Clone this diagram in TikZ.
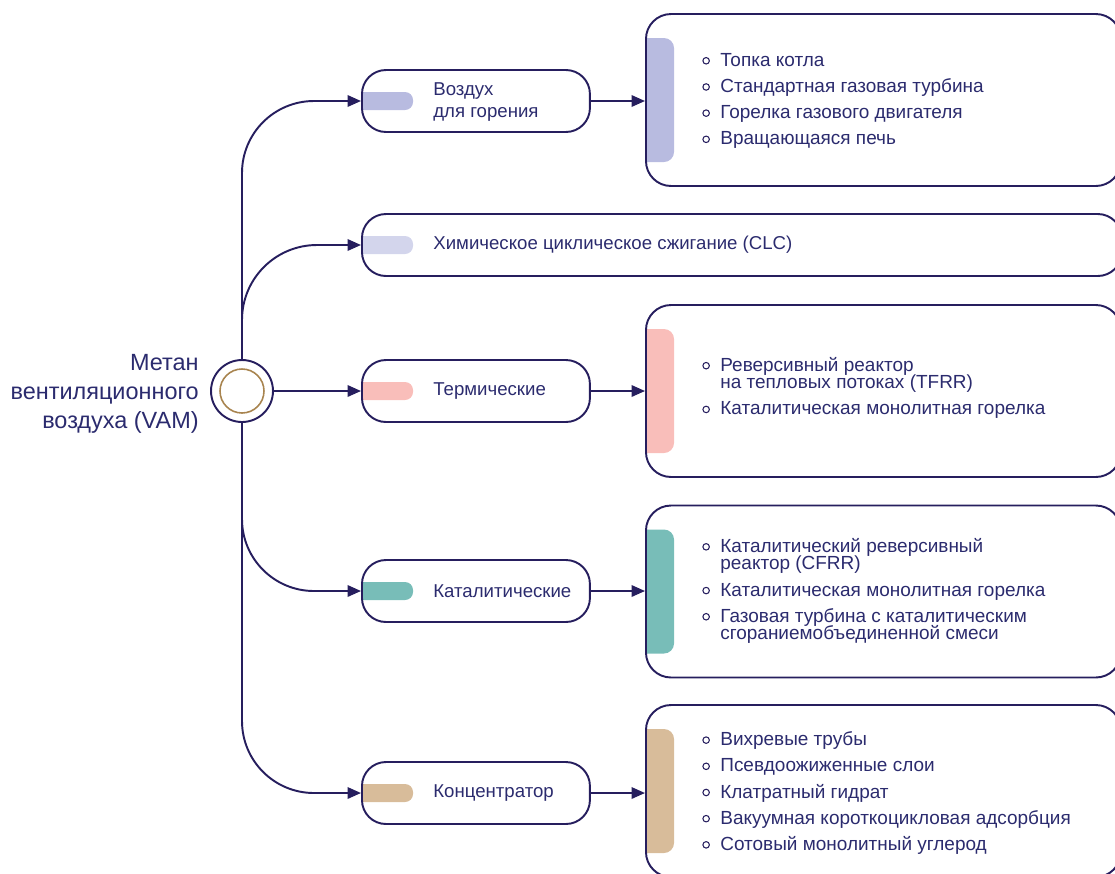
\documentclass[tikz,border=0pt]{standalone}
\usepackage{fontspec}
\setmainfont{Liberation Sans}
\usetikzlibrary{arrows.meta,backgrounds}

\definecolor{navy}{HTML}{261E5E}
\definecolor{ink}{HTML}{2B2B6E}
\definecolor{ring}{HTML}{A8844F}
\definecolor{barA}{HTML}{B8BBE0}
\definecolor{barB}{HTML}{D3D5EC}
\definecolor{barC}{HTML}{F9BEBA}
\definecolor{barD}{HTML}{78BDB8}
\definecolor{barE}{HTML}{D8BC9A}

\newcommand{\bul}{\makebox[0.36cm][l]{\tikz[baseline=-0.55ex]\draw[navy, line width=0.6pt] (0.07cm,0cm) circle (0.065cm);}}
\newcommand{\cnt}{\hspace*{0.36cm}}
\newcommand{\tightlines}{\lineskiplimit=-20pt\relax}

\begin{document}
\begin{tikzpicture}[x=0.02cm, y=-0.02cm,
	box/.style={draw=navy, line width=1.1pt, rounded corners=0.48cm, minimum height=1.24cm, minimum width=4.56cm, anchor=west, inner sep=0pt},
	panel/.style={draw=navy, line width=1.1pt, rounded corners=0.5cm, minimum height=3.44cm, minimum width=9.5cm, anchor=west, inner sep=0pt},
	boxtext/.style={text=ink, font=\fontsize{10.6}{12}\selectfont, align=left, anchor=west, inner sep=0pt},
	itemlist/.style={text=ink, font=\fontsize{10.8}{10}\selectfont\tightlines, align=left, anchor=west, inner sep=0pt},
	flow/.style={draw=navy, line width=1.1pt, -{Triangle[length=0.27cm, width=0.23cm]}}]

	\useasboundingbox (0,0) rectangle (1115,873);

	% source
	\node (vam) [circle, draw=navy, line width=1.1pt, minimum size=1.24cm, inner sep=0pt] at (242,391) {};
	\draw [draw=ring, line width=0.9pt] (vam.center) circle (0.44cm);
	\node (vam-txt) [text=ink, font=\fontsize{13.35}{16.4}\selectfont, align=right, anchor=east, inner sep=0pt] at (199,394) {Метан\\вентиляционного\\воздуха (VAM)};

	% middle column
	\node (air) [box] at (361,101) {};
	\node (clc) [box, minimum width=15.2cm] at (361,245) {};
	\node (therm) [box] at (361,391) {};
	\node (cat) [box] at (361,591) {};
	\node (conc) [box] at (361,793) {};

	\node (air-txt) [boxtext] at (433,102) {Воздух\\для горения};
	\node (clc-txt) [boxtext] at (433,245) {Химическое циклическое сжигание (CLC)};
	\node (therm-txt) [boxtext] at (433,391) {Термические};
	\node (cat-txt) [boxtext] at (433,591) {Каталитические};
	\node (conc-txt) [boxtext] at (433,793) {Концентратор};

	% right column
	\node (airP) [panel] at (645,100) {};
	\node (thermP) [panel] at (645,391) {};
	\node (catP) [panel] at (645,591.5) {};
	\node (concP) [panel] at (645,791) {};

	\node (airP-list) [itemlist] at (702,101) {\bul Топка котла\\[4.9pt]
		\bul Стандартная газовая турбина\\[4.9pt]
		\bul Горелка газового двигателя\\[4.9pt]
		\bul Вращающаяся печь};
	\node (thermP-list) [itemlist] at (702,388) {\bul Реверсивный реактор\\
		\cnt на тепловых потоках (TFRR)\\[4.9pt]
		\bul Каталитическая монолитная горелка};
	\node (catP-list) [itemlist] at (702,591) {\bul Каталитический реверсивный\\
		\cnt реактор (CFRR)\\[4.9pt]
		\bul Каталитическая монолитная горелка\\[4.9pt]
		\bul Газовая турбина с каталитическим\\
		\cnt сгораниемобъединенной смеси};
	\node (concP-list) [itemlist] at (702,793) {\bul Вихревые трубы\\[4.9pt]
		\bul Псевдоожиженные слои\\[4.9pt]
		\bul Клатратный гидрат\\[4.9pt]
		\bul Вакуумная короткоцикловая адсорбция\\[4.9pt]
		\bul Сотовый монолитный углерод};

	% colour tabs
	\begin{scope}[on background layer]
		\foreach \n/\c in {air/barA, clc/barB, therm/barC, cat/barD, conc/barE} {
			\begin{scope}
				\clip (\n.west) ++(0,-12) rectangle ++(60,24);
				\fill [\c, rounded corners=0.16cm] (\n.west) ++(-20,-9) rectangle ++(72,18);
			\end{scope}
		}
		\foreach \n/\c in {airP/barA, thermP/barC, catP/barD, concP/barE} {
			\begin{scope}
				\clip (\n.west) ++(0,-70) rectangle ++(40,140);
				\fill [\c, rounded corners=0.2cm] (\n.west) ++(-20,-62) rectangle ++(49,124);
			\end{scope}
		}
	\end{scope}

	% connectors
	\draw [flow, rounded corners=1.44cm] (vam.north) |- (air.west);
	\draw [flow, rounded corners=1.5cm] (vam.north) |- (clc.west);
	\draw [flow] (vam.east) -- (therm.west);
	\draw [flow, rounded corners=1.44cm] (vam.south) |- (cat.west);
	\draw [flow, rounded corners=1.44cm] (vam.south) |- (conc.west);

	\draw [flow] (air.east) -- (air.east -| airP.west);
	\draw [flow] (therm.east) -- (therm.east -| thermP.west);
	\draw [flow] (cat.east) -- (cat.east -| catP.west);
	\draw [flow] (conc.east) -- (conc.east -| concP.west);

\end{tikzpicture}
\end{document}
